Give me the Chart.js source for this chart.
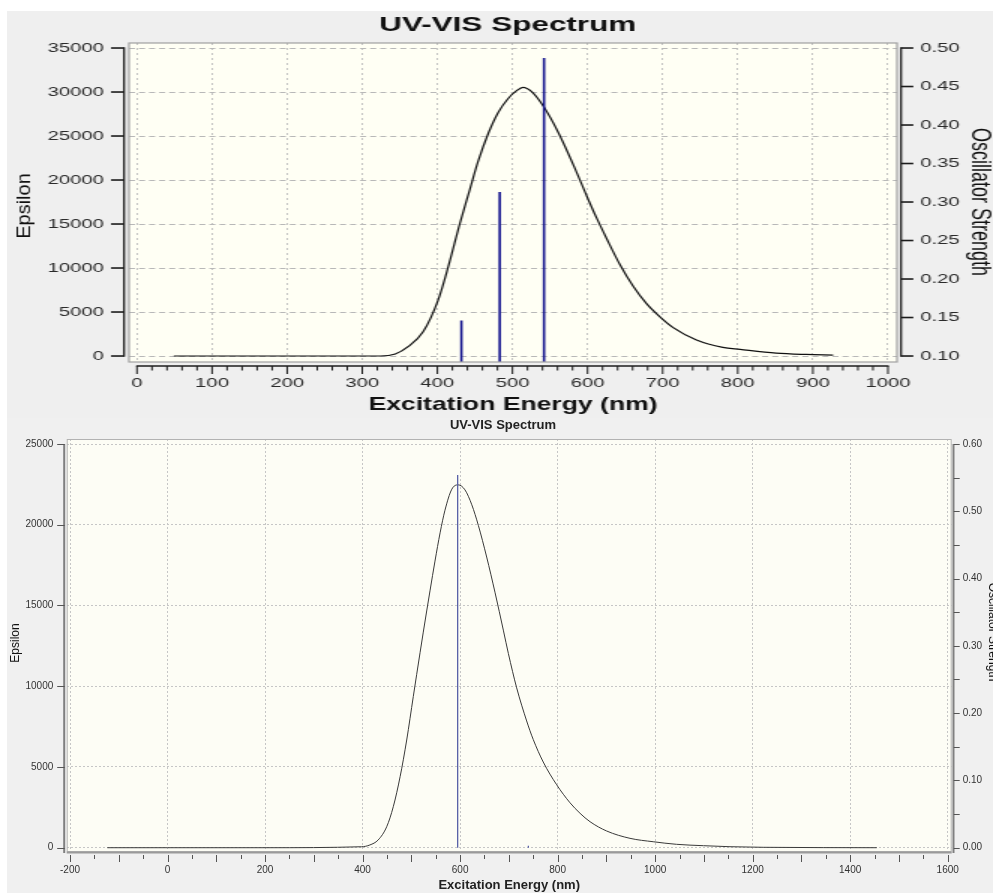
<!DOCTYPE html>
<html><head><meta charset="utf-8">
<script src="https://cdn.jsdelivr.net/npm/chart.js@4.4.1/dist/chart.umd.min.js"></script>
<style>
html,body{margin:0;padding:0;background:#fff;width:993px;height:893px;overflow:hidden;position:relative}
#panelTop{position:absolute;left:7px;top:11px;width:986px;height:407px;background:#efefef}
#panelBot{position:absolute;left:7px;top:418px;width:986px;height:475px;background:#f0f0f0}
#wrapTop{position:absolute;left:0;top:0;width:662px;height:418px;transform:scaleX(1.5);transform-origin:0 0}
#wrapBot{position:absolute;left:0;top:418px;width:993px;height:475px}
canvas{display:block}
</style></head><body>
<div id="panelTop"></div><div id="panelBot"></div>
<div id="wrapTop"><canvas id="topChart" width="662" height="418"></canvas></div>
<div id="wrapBot"><canvas id="bottomChart" width="993" height="475"></canvas></div>
<script>
// ---------- data ----------
const topWavelengths = [49, 150, 250, 324, 344, 361, 381, 401, 414.5, 430, 443, 454, 468, 481, 494, 505.5, 514, 525.5, 541, 561, 585, 599, 612, 625, 643, 661, 678.5, 696, 714, 745, 780, 803, 851, 891, 927];
const topEpsilon = [0, 0, 0, 0, 230, 1060, 2750, 6360, 10150, 15080, 18860, 22050, 25340, 27680, 29240, 30150, 30530, 30040, 28400, 25400, 20960, 18160, 15690, 13415, 10400, 7900, 5950, 4480, 3225, 1830, 990, 760, 330, 180, 110];
const topStickWavelengths = [432, 483, 542];
const topStickStrengths = [0.146, 0.313, 0.487];
const topWavelengthTicks = [0, 100, 200, 300, 400, 500, 600, 700, 800, 900, 1000];
const topEpsilonTicks = [0, 5000, 10000, 15000, 20000, 25000, 30000, 35000];
const topStrengthTicks = [0.10, 0.15, 0.20, 0.25, 0.30, 0.35, 0.40, 0.45, 0.50];

const bottomWavelengths = [-123.5, 0, 200, 398, 415, 432, 449.5, 463, 477, 490.5, 504, 518, 524.5, 538.5, 548.5, 559, 569, 583, 596, 610, 624, 637.5, 654.5, 671.5, 689, 699, 716, 736.5, 750, 770.5, 798, 825.5, 846, 866.5, 900.5, 948.5, 996, 1044, 1099, 1153.5, 1222, 1345, 1454.5];
const bottomEpsilon = [0, 0, 0, 60, 170, 480, 1300, 2540, 4400, 6670, 9360, 12100, 13350, 15950, 17750, 19500, 20900, 22200, 22470, 22160, 21236, 19954, 18000, 15824, 13427, 12027, 9900, 7850, 6700, 5306, 3900, 2780, 2130, 1610, 1035, 580, 370, 210, 124, 62, 25, 5, 0];
const bottomStickWavelengths = [595, 740];
const bottomStickStrengths = [0.554, 0.003];
const bottomWavelengthTicks = [-200, 0, 200, 400, 600, 800, 1000, 1200, 1400, 1600];
const bottomEpsilonTicks = [0, 5000, 10000, 15000, 20000, 25000];
const bottomStrengthTicks = [0, 0.1, 0.2, 0.3, 0.4, 0.5, 0.6];

const chartTitle = 'UV-VIS Spectrum';
const xTitle = 'Excitation Energy (nm)';
const yTitle = 'Epsilon';
const y2Title = 'Oscillator Strength';

// ---------- helpers ----------
const FONT = '"Liberation Sans", Arial, sans-serif';
Chart.defaults.font.family = FONT;
const toPoints = (xs, ys) => xs.map((x, i) => ({x: x, y: ys[i]}));
const toSticks = (xs, ys) => xs.flatMap((x, i) => [{x: x, y: 0}, {x: x, y: ys[i]}, {x: x, y: null}]);
const fixTicks = arr => scale => { scale.ticks = arr.map(v => ({value: v})); };
function line(ctx, x1, y1, x2, y2, w) {
  ctx.lineWidth = w; ctx.beginPath(); ctx.moveTo(x1, y1); ctx.lineTo(x2, y2); ctx.stroke();
}
function rotText(ctx, txt, x, y, ang, font, sx) {
  ctx.save(); ctx.translate(x, y); if (sx) ctx.scale(sx, 1); ctx.rotate(ang);
  ctx.font = font; ctx.fillStyle = '#111'; ctx.textAlign = 'center'; ctx.textBaseline = 'middle';
  ctx.fillText(txt, 0, 0); ctx.restore();
}

// ---------- top chart (canvas is stretched 1.5x horizontally) ----------
const topYMin = -680, topYMax = 35570;
const topToStrength = v => 0.10 + v * 0.40 / 35000;

const topDecor = {
  id: 'topDecor',
  beforeDraw(chart) {
    const {ctx, chartArea: a} = chart;
    ctx.save(); ctx.fillStyle = '#fffff4';
    ctx.fillRect(a.left, a.top, a.right - a.left, a.bottom - a.top); ctx.restore();
  },
  afterDraw(chart) {
    const {ctx, chartArea: a, scales: {x, y, y2}} = chart;
    ctx.save();
    ctx.strokeStyle = '#a0a0a0';
    ctx.lineWidth = 1.2;
    ctx.strokeRect(a.left, a.top, a.right - a.left, a.bottom - a.top);
    ctx.strokeStyle = '#1c1c1c';
    const yT = y.getPixelForValue(topEpsilonTicks[topEpsilonTicks.length - 1]);
    const yB = y.getPixelForValue(topEpsilonTicks[0]);
    const lx = a.left - 3.3, rx = a.right + 2.7;
    line(ctx, lx, yT - 0.8, lx, yB + 0.8, 1.3);
    topEpsilonTicks.forEach(v => { const p = y.getPixelForValue(v); line(ctx, a.left - 12, p, lx, p, 1.6); });
    line(ctx, rx, yT - 0.8, rx, yB + 0.8, 1.3);
    topStrengthTicks.forEach(v => { const p = y2.getPixelForValue(v); line(ctx, rx, p, a.right + 10.9, p, 1.6); });
    const by = a.bottom + 4;
    const x0 = x.getPixelForValue(topWavelengthTicks[0]);
    const x1 = x.getPixelForValue(topWavelengthTicks[topWavelengthTicks.length - 1]);
    line(ctx, x0 - 0.5, by, x1 + 0.5, by, 1.6);
    for (let v = topWavelengthTicks[0]; v <= topWavelengthTicks[topWavelengthTicks.length - 1]; v += 20) {
      const p = x.getPixelForValue(v);
      line(ctx, p, by, p, by + (v % 100 === 0 ? 8 : 4.5), 1);
    }
    ctx.restore();
    rotText(ctx, yTitle, 16.7, 206, -Math.PI / 2, '20px ' + FONT, 1 / 1.5);
    rotText(ctx, y2Title, 653, 202, Math.PI / 2, '18px ' + FONT, null);
  }
};

new Chart(document.getElementById('topChart'), {
  type: 'scatter',
  data: {
    datasets: [
      {data: toSticks(topStickWavelengths, topStickStrengths), yAxisID: 'y2', showLine: true, spanGaps: false,
       borderColor: '#14148e', borderWidth: 1.6, pointRadius: 0},
      {data: toPoints(topWavelengths, topEpsilon), yAxisID: 'y', showLine: true,
       borderColor: '#111', borderWidth: 1.2, pointRadius: 0, cubicInterpolationMode: 'monotone'}
    ]
  },
  options: {
    responsive: false, animation: false, devicePixelRatio: 1, events: [],
    layout: {padding: {left: 15, right: 0, top: 0, bottom: 0}},
    plugins: {
      legend: {display: false}, tooltip: {enabled: false},
      title: {display: true, text: chartTitle, color: '#111', font: {size: 21, weight: 'bold', family: FONT},
              padding: {top: 12.4, bottom: 5.4}}
    },
    scales: {
      x: {type: 'linear', position: 'bottom', min: -10.6, max: 1012, bounds: 'data',
          afterBuildTicks: fixTicks(topWavelengthTicks), afterFit: s => { s.height = 56; },
          ticks: {autoSkip: false, maxRotation: 0, padding: 13.4, color: '#2a2a2a', font: {size: 13.5}, callback: v => String(v)},
          grid: {color: '#b8b8b8', lineWidth: 0.8, drawTicks: false},
          border: {display: false, dash: [2, 3]},
          title: {display: true, text: xTitle, color: '#111', font: {size: 17.7, weight: 'bold', family: FONT}, padding: {top: 0, bottom: 2.4}}},
      y: {type: 'linear', position: 'left', min: topYMin, max: topYMax, bounds: 'data',
          afterBuildTicks: fixTicks(topEpsilonTicks), afterFit: s => { s.width = 71; },
          ticks: {autoSkip: false, padding: 16.7, color: '#2a2a2a', font: {size: 13.5}, callback: v => String(v)},
          grid: {color: '#b8b8b8', lineWidth: 1, drawTicks: false},
          border: {display: false, dash: [4, 2.7]}},
      y2: {type: 'linear', position: 'right', min: topToStrength(topYMin), max: topToStrength(topYMax), bounds: 'data',
          afterBuildTicks: fixTicks(topStrengthTicks), afterFit: s => { s.width = 64; },
          ticks: {autoSkip: false, padding: 15.6, color: '#2a2a2a', font: {size: 13.5}, callback: v => Number(v).toFixed(2)},
          grid: {display: false, drawTicks: false},
          border: {display: false}}
    }
  },
  plugins: [topDecor]
});

// ---------- bottom chart ----------
const botYMin = -266, botYMax = 25310;
const botToStrength = v => v * 0.60 / 25000;

const bottomDecor = {
  id: 'bottomDecor',
  beforeDraw(chart) {
    const {ctx, chartArea: a} = chart;
    ctx.save(); ctx.fillStyle = '#fdfdf5';
    ctx.fillRect(a.left, a.top, a.right - a.left, a.bottom - a.top); ctx.restore();
  },
  afterDraw(chart) {
    const {ctx, chartArea: a, scales: {x, y, y2}} = chart;
    ctx.save();
    ctx.strokeStyle = '#b2b2b2';
    ctx.lineWidth = 1;
    ctx.strokeRect(a.left + 0.5, a.top + 0.5, a.right - a.left - 1, a.bottom - a.top - 1);
    ctx.strokeStyle = '#9a9a9a';
    line(ctx, a.left, a.bottom + 0.5, a.right, a.bottom + 0.5, 2);
    ctx.strokeStyle = '#808080';
    const yT = y.getPixelForValue(bottomEpsilonTicks[bottomEpsilonTicks.length - 1]);
    line(ctx, a.left - 2.5, yT, a.left - 2.5, a.bottom + 1, 2);
    ctx.strokeStyle = '#555';
    bottomEpsilonTicks.forEach(v => { const p = Math.round(y.getPixelForValue(v)) + 0.5; line(ctx, a.left - 9.5, p, a.left - 2, p, 1); });
    ctx.strokeStyle = '#808080';
    const y2T = y2.getPixelForValue(bottomStrengthTicks[bottomStrengthTicks.length - 1]);
    line(ctx, a.right + 1.8, y2T, a.right + 1.8, a.bottom + 1, 2);
    ctx.strokeStyle = '#555';
    const sMax = bottomStrengthTicks[bottomStrengthTicks.length - 1];
    for (let k = 0; k <= Math.round(sMax / 0.05); k++) {
      const p = Math.round(y2.getPixelForValue(k * 0.05)) + 0.5; line(ctx, a.right + 2, p, a.right + 8, p, 1);
    }
    const xs = bottomWavelengthTicks[0], xe = bottomWavelengthTicks[bottomWavelengthTicks.length - 1];
    for (let v = xs; v <= xe; v += 50) {
      const p = Math.round(x.getPixelForValue(v)) + 0.5;
      line(ctx, p, a.bottom + 3, p, a.bottom + (v % 100 === 0 ? 10 : 7), 1);
    }
    ctx.restore();
    rotText(ctx, yTitle, 16, 225, -Math.PI / 2, '12px ' + FONT, null);
    rotText(ctx, y2Title, 992, 214, Math.PI / 2, '12px ' + FONT, null);
  }
};

new Chart(document.getElementById('bottomChart'), {
  type: 'scatter',
  data: {
    datasets: [
      {data: toSticks(bottomStickWavelengths, bottomStickStrengths), yAxisID: 'y2', showLine: true, spanGaps: false,
       borderColor: '#5a62a8', borderWidth: 1.3, pointRadius: 0},
      {data: toPoints(bottomWavelengths, bottomEpsilon), yAxisID: 'y', showLine: true,
       borderColor: '#3a3a3a', borderWidth: 1, pointRadius: 0, cubicInterpolationMode: 'monotone'}
    ]
  },
  options: {
    responsive: false, animation: false, devicePixelRatio: 1, events: [],
    layout: {padding: {left: 13, right: 0, top: 0, bottom: 0}},
    plugins: {
      legend: {display: false}, tooltip: {enabled: false},
      title: {display: true, text: chartTitle, color: '#222', font: {size: 13, weight: 'bold', family: FONT},
              padding: {top: 0, bottom: 5.4}}
    },
    scales: {
      x: {type: 'linear', position: 'bottom', min: -206.8, max: 1608.2, bounds: 'data',
          afterBuildTicks: fixTicks(bottomWavelengthTicks), afterFit: s => { s.height = 41; },
          ticks: {autoSkip: false, maxRotation: 0, padding: 12, color: '#333', font: {size: 10}, callback: v => String(v)},
          grid: {color: '#c6c6c6', lineWidth: 1, drawTicks: false},
          border: {display: false, dash: [2, 2]},
          title: {display: true, text: xTitle, color: '#222', font: {size: 13, weight: 'bold', family: FONT}, padding: {top: 0, bottom: 0}}},
      y: {type: 'linear', position: 'left', min: botYMin, max: botYMax, bounds: 'data',
          afterBuildTicks: fixTicks(bottomEpsilonTicks), afterFit: s => { s.width = 53.7; },
          ticks: {autoSkip: false, padding: 13.4, color: '#333', font: {size: 10}, callback: v => String(v)},
          grid: {color: '#c6c6c6', lineWidth: 1, drawTicks: false},
          border: {display: false, dash: [2, 2]}},
      y2: {type: 'linear', position: 'right', min: botToStrength(botYMin), max: botToStrength(botYMax), bounds: 'data',
          afterBuildTicks: fixTicks(bottomStrengthTicks), afterFit: s => { s.width = 41.3; },
          ticks: {autoSkip: false, padding: 11, color: '#333', font: {size: 10}, callback: v => Number(v).toFixed(2)},
          grid: {display: false, drawTicks: false},
          border: {display: false}}
    }
  },
  plugins: [bottomDecor]
});
</script>
</body></html>
